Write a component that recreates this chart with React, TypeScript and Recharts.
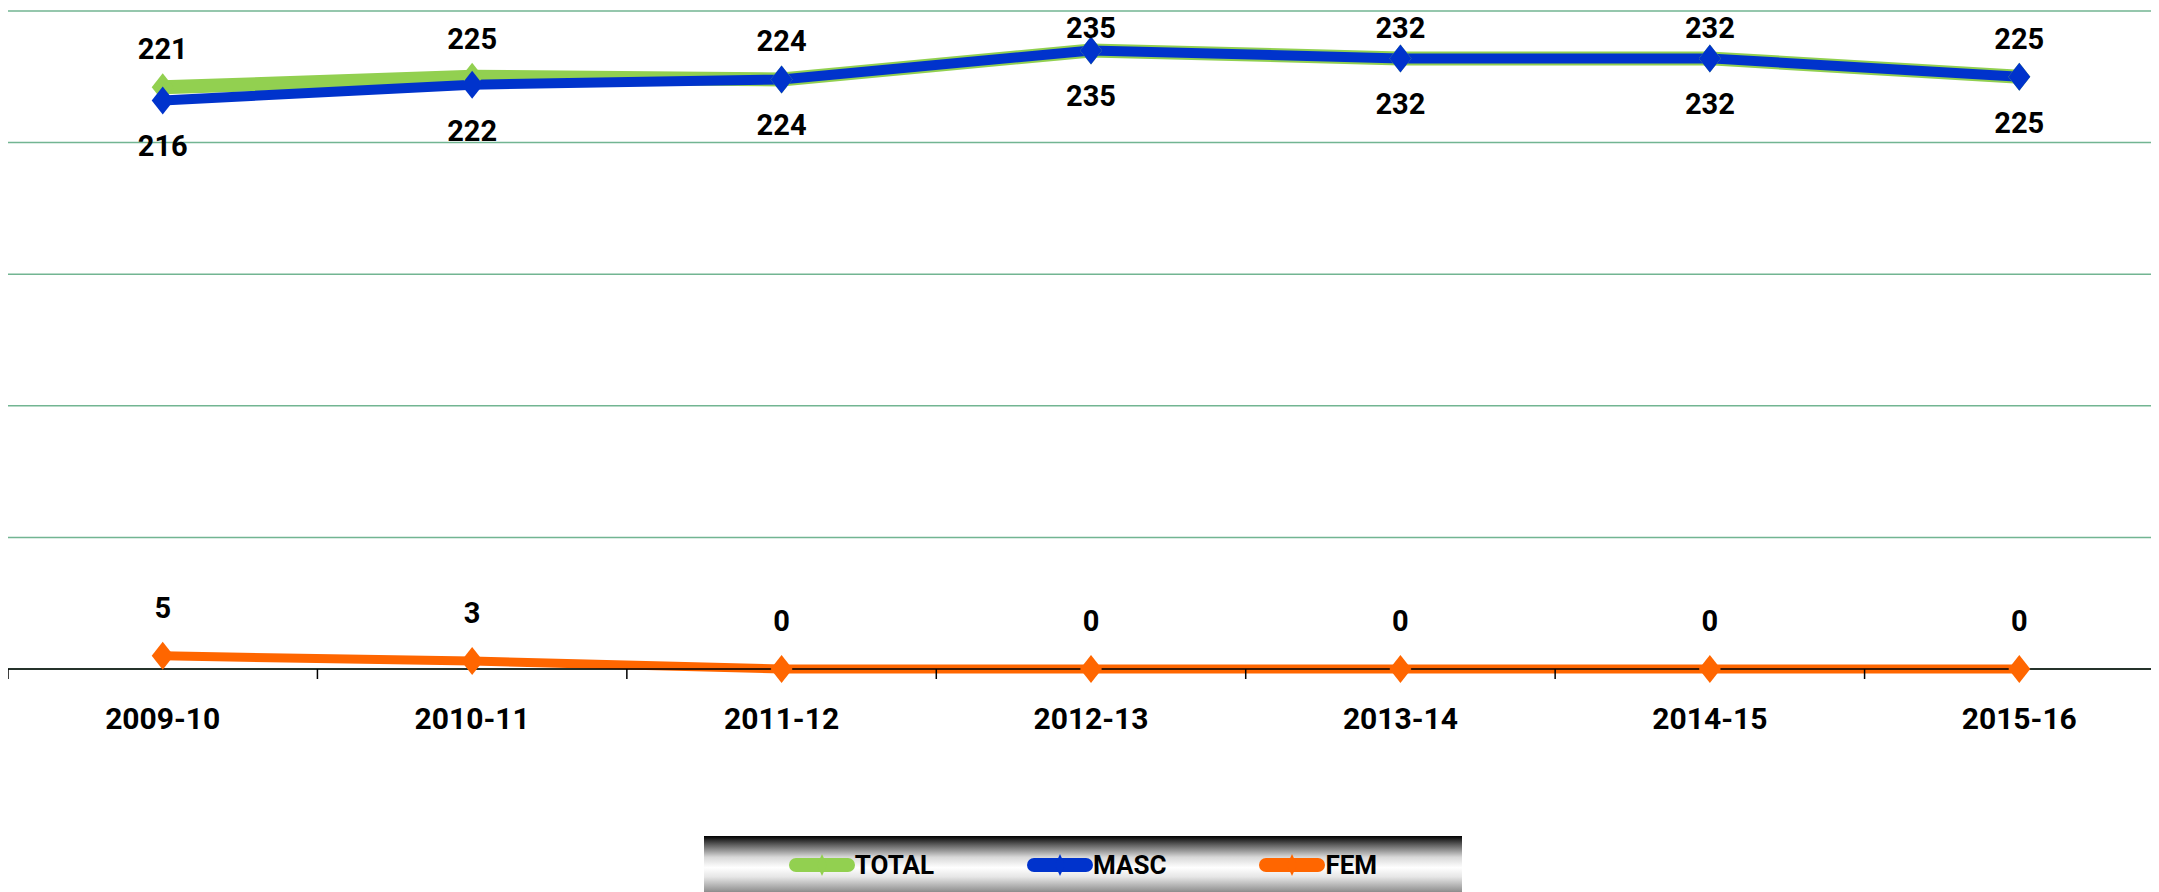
import React from "react";
import { CartesianGrid, LabelList, Line, LineChart, XAxis, YAxis } from "recharts";

// ── chart values ─────────────────────────────────────────────
const periods = ["2009-10", "2010-11", "2011-12", "2012-13", "2013-14", "2014-15", "2015-16"];
const totalValues = [221, 225, 224, 235, 232, 232, 225];
const mascValues = [216, 222, 224, 235, 232, 232, 225];
const femValues = [5, 3, 0, 0, 0, 0, 0];
const yTicks = [0, 50, 100, 150, 200, 250];

const data = periods.map((period, i) => ({
  period,
  total: totalValues[i],
  masc: mascValues[i],
  fem: femValues[i],
}));

// ── look ─────────────────────────────────────────────────────
const GREEN = "#92D050";
const BLUE = "#0033CC";
const ORANGE = "#FF6600";
const GRID = "#72b592";
const FONT = "Roboto, 'Liberation Sans', sans-serif";

// chart is a bit wider than the window, like the source: the last band runs off the page
const CHART_W = 2166;
const CHART_H = 884;
const BAND = CHART_W / periods.length;
// labels above the top line get pushed down so they stay inside the chart
const MIN_LABEL_BASELINE = 30;

function Diamond(color: string) {
  return (props: any) => {
    const { cx, cy, index } = props;
    if (cx == null || cy == null) return <g key={index} />;
    return (
      <path
        key={index}
        d={`M${cx},${cy - 14} L${cx + 11},${cy} L${cx},${cy + 14} L${cx - 11},${cy} Z`}
        fill={color}
      />
    );
  };
}

// value label at a fixed vertical offset from the point (baseline offset)
function valueLabel(dy: number) {
  return (props: any) => {
    const { x, y, value } = props;
    return (
      <text
        x={x}
        y={Math.max(y + dy, MIN_LABEL_BASELINE)}
        textAnchor="middle"
        fontFamily={FONT}
        fontWeight={700}
        fontSize={29}
        fill="#000"
      >
        {value}
      </text>
    );
  };
}

// category label at band centre + tick mark at the band's left edge
function PeriodTick(props: any) {
  const { x, y, payload } = props;
  const edge = x - BAND / 2;
  return (
    <g>
      <line x1={edge} y1={y} x2={edge} y2={y + 10} stroke="#000" strokeWidth={1.5} />
      <text
        x={x}
        y={y + 60}
        textAnchor="middle"
        fontFamily={FONT}
        fontWeight={700}
        fontSize={30}
        fill="#000"
      >
        {payload.value}
      </text>
    </g>
  );
}

function LegendSwatch({ color }: { color: string }) {
  return (
    <svg width={66} height={26} style={{ display: "block" }}>
      <line x1={7} y1={13} x2={59} y2={13} stroke={color} strokeWidth={14} strokeLinecap="round" />
      <path d="M33,2 L38,13 L33,24 L28,13 Z" fill={color} />
    </svg>
  );
}

const legendItems = [
  { label: "TOTAL", color: GREEN },
  { label: "MASC", color: BLUE },
  { label: "FEM", color: ORANGE },
];

export default function App() {
  return (
    <div style={{ position: "relative", width: 2151, height: CHART_H, overflow: "hidden" }}>
      <LineChart
        width={CHART_W}
        height={CHART_H}
        data={data}
        margin={{ top: 3, right: 0, left: 0, bottom: 163 }}
      >
        <CartesianGrid vertical={false} stroke={GRID} strokeWidth={1.5} />
        <XAxis
          dataKey="period"
          padding={{ left: BAND / 2, right: BAND / 2 }}
          axisLine={{ stroke: "#000", strokeWidth: 1.5 }}
          tickLine={false}
          tickSize={0}
          tickMargin={0}
          height={60}
          interval={0}
          tick={<PeriodTick />}
        />
        <YAxis hide domain={[0, 250]} ticks={yTicks} />

        <Line
          type="linear"
          dataKey="total"
          name="TOTAL"
          stroke={GREEN}
          strokeWidth={14}
          dot={Diamond(GREEN)}
          activeDot={false}
          isAnimationActive={false}
        >
          <LabelList dataKey="total" content={valueLabel(-28)} />
        </Line>
        <Line
          type="linear"
          dataKey="masc"
          name="MASC"
          stroke={BLUE}
          strokeWidth={10}
          dot={Diamond(BLUE)}
          activeDot={false}
          isAnimationActive={false}
        >
          <LabelList dataKey="masc" content={valueLabel(56)} />
        </Line>
        <Line
          type="linear"
          dataKey="fem"
          name="FEM"
          stroke={ORANGE}
          strokeWidth={9}
          dot={Diamond(ORANGE)}
          activeDot={false}
          isAnimationActive={false}
        >
          <LabelList dataKey="fem" content={valueLabel(-38)} />
        </Line>
      </LineChart>

      {/* legend strip: dark-light-dark band, cut off by the bottom of the page */}
      <div
        style={{
          position: "absolute",
          left: 696,
          top: 828,
          width: 758,
          height: 66,
          background:
            "linear-gradient(to bottom, #000 0%, #555 12%, #d8d8d8 32%, #fff 48%, #e6e6e6 62%, #999 82%, #444 100%)",
          display: "flex",
          alignItems: "center",
          justifyContent: "center",
          gap: 93,
          paddingBottom: 8,
          boxSizing: "border-box",
        }}
      >
        {legendItems.map((item) => (
          <div key={item.label} style={{ display: "flex", alignItems: "center" }}>
            <LegendSwatch color={item.color} />
            <span
              style={{
                fontFamily: FONT,
                fontWeight: 700,
                fontSize: 26,
                color: "#000",
                lineHeight: 1,
              }}
            >
              {item.label}
            </span>
          </div>
        ))}
      </div>
    </div>
  );
}
